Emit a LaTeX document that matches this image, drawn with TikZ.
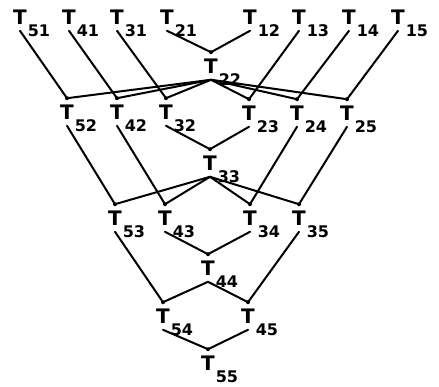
\documentclass[tikz,border=0pt]{standalone}
\usepackage{fontspec}
\newfontfamily\plotfont{DejaVu Sans}
\newcommand{\Tsub}[1]{T\rlap{\kern1pt\smash{\raisebox{-12.5pt}{\fontsize{16}{16}\selectfont #1}}}}
\tikzset{
    tnode/.style={font=\plotfont\bfseries\fontsize{20}{20}\selectfont, inner sep=0pt, outer ysep=6.5pt},
    link/.style={line width=2pt, line cap=round, line join=round},
}
\begin{document}
\begin{tikzpicture}[x=1pt, y=-1pt]
        \useasboundingbox (0,0) rectangle (439,386);
        % top row
        \node[tnode] (t51) at (20,17) {\Tsub{51}};
        \node[tnode] (t41) at (69,17) {\Tsub{41}};
        \node[tnode] (t31) at (117,17) {\Tsub{31}};
        \node[tnode] (t21) at (167,17) {\Tsub{21}};
        \node[tnode] (t12) at (250,17) {\Tsub{12}};
        \node[tnode] (t13) at (299,17) {\Tsub{13}};
        \node[tnode] (t14) at (349,17) {\Tsub{14}};
        \node[tnode] (t15) at (398,17) {\Tsub{15}};
        \node[tnode] (t22) at (211,66) {\Tsub{22}};
        % second row
        \node[tnode] (t52) at (67,112) {\Tsub{52}};
        \node[tnode] (t42) at (117,112) {\Tsub{42}};
        \node[tnode] (t32) at (166,112) {\Tsub{32}};
        \node[tnode] (t23) at (249,113) {\Tsub{23}};
        \node[tnode] (t24) at (297,113) {\Tsub{24}};
        \node[tnode] (t25) at (347,113) {\Tsub{25}};
        \node[tnode] (t33) at (210,163) {\Tsub{33}};
        % third row
        \node[tnode] (t53) at (115,218) {\Tsub{53}};
        \node[tnode] (t43) at (165,218) {\Tsub{43}};
        \node[tnode] (t34) at (250,218) {\Tsub{34}};
        \node[tnode] (t35) at (299,218) {\Tsub{35}};
        \node[tnode] (t44) at (208,268) {\Tsub{44}};
        % bottom
        \node[tnode] (t54) at (163,316) {\Tsub{54}};
        \node[tnode] (t45) at (248,316) {\Tsub{45}};
        \node[tnode] (t55) at (208,363) {\Tsub{55}};

        \draw[link] (t51.south) -- (t52.north);
        \draw[link] (t41.south) -- (t42.north);
        \draw[link] (t31.south) -- (t32.north);
        \draw[link] (t21.south) -- (t22.north);
        \draw[link] (t12.south) -- (t22.north);
        \draw[link] (t13.south) -- (t23.north);
        \draw[link] (t14.south) -- (t24.north);
        \draw[link] (t15.south) -- (t25.north);
        \draw[link] (t22.south) -- (t52.north);
        \draw[link] (t22.south) -- (t42.north);
        \draw[link] (t22.south) -- (t32.north);
        \draw[link] (t22.south) -- (t23.north);
        \draw[link] (t22.south) -- (t24.north);
        \draw[link] (t22.south) -- (t25.north);

        \draw[link] (t52.south) -- (t53.north);
        \draw[link] (t42.south) -- (t43.north);
        \draw[link] (t32.south) -- (t33.north);
        \draw[link] (t23.south) -- (t33.north);
        \draw[link] (t24.south) -- (t34.north);
        \draw[link] (t25.south) -- (t35.north);
        \draw[link] (t33.south) -- (t53.north);
        \draw[link] (t33.south) -- (t43.north);
        \draw[link] (t33.south) -- (t34.north);
        \draw[link] (t33.south) -- (t35.north);

        \draw[link] (t53.south) -- (t54.north);
        \draw[link] (t43.south) -- (t44.north);
        \draw[link] (t34.south) -- (t44.north);
        \draw[link] (t35.south) -- (t45.north);
        \draw[link] (t44.south) -- (t54.north);
        \draw[link] (t44.south) -- (t45.north);
        \draw[link] (t54.south) -- (t55.north);
        \draw[link] (t45.south) -- (t55.north);

        \fill (t22.north) circle (2) (t52.north) circle (2) (t42.north) circle (2)
              (t32.north) circle (2) (t23.north) circle (2) (t24.north) circle (2)
              (t25.north) circle (2) (t33.north) circle (2) (t53.north) circle (2)
              (t43.north) circle (2) (t34.north) circle (2) (t35.north) circle (2)
              (t44.north) circle (2) (t54.north) circle (2) (t45.north) circle (2)
              (t55.north) circle (2);
    \end{tikzpicture}
\end{document}
